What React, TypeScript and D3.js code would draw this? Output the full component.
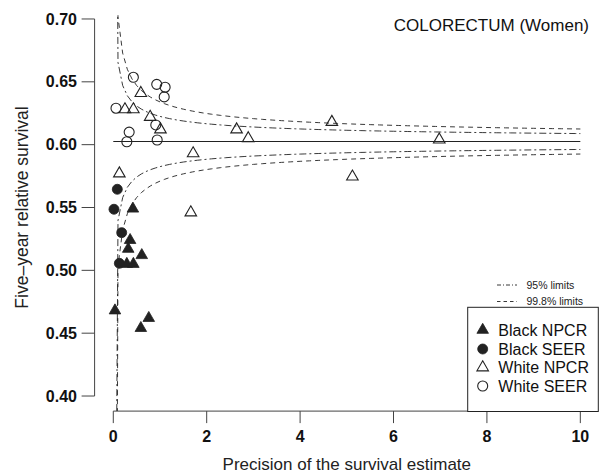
import React from "react";
import * as d3 from "d3";

// Precision (x) and five-year relative survival (y) per registry group
const blackNpcrX = [0.42, 0.36, 0.32, 0.61, 0.29, 0.43, 0.036, 0.76, 0.59];
const blackNpcrY = [0.549, 0.524, 0.517, 0.512, 0.505, 0.505, 0.468, 0.462, 0.454];

const blackSeerX = [0.086, 0.015, 0.18, 0.13];
const blackSeerY = [0.5645, 0.5486, 0.53, 0.5056];

const whiteNpcrX = [0.13, 0.25, 0.43, 0.59, 0.79, 1.01, 1.66, 1.71, 2.64, 2.89, 4.68, 5.12, 6.98];
const whiteNpcrY = [0.577, 0.628, 0.628, 0.641, 0.622, 0.612, 0.546, 0.593, 0.612, 0.605, 0.618, 0.5745, 0.604];

const whiteSeerX = [0.058, 0.43, 0.93, 1.11, 1.09, 0.91, 0.34, 0.29, 0.94];
const whiteSeerY = [0.629, 0.6536, 0.648, 0.6457, 0.638, 0.6157, 0.61, 0.6023, 0.6037];

// Funnel parameters: overall target and standard-error scale (SE = scale / sqrt(precision))
const target = 0.6025;
const seScale = 0.0102;
const z95 = 1.96;
const z998 = 3.09;

const xTicks = [0, 2, 4, 6, 8, 10];
const yTicks = [0.4, 0.45, 0.5, 0.55, 0.6, 0.65, 0.7];

const legendLabels = ["Black NPCR", "Black SEER", "White NPCR", "White SEER"];

const W = 601;
const H = 475;
const FONT = "'Liberation Sans', Arial, Helvetica, sans-serif";

export default function App() {
  // R-style 4% padding around the data ranges
  const x = d3.scaleLinear().domain([-0.4, 10.4]).range([94.6, 599]);
  const y = d3.scaleLinear().domain([0.388, 0.712]).range([411.1, 3.9]);

  // precision grid for the control limits
  const grid = d3.range(0, 101).map((i) => 0.001 + i * 0.1);
  const limit = (z: number, sign: number) =>
    d3
      .line<number>()
      .x((p) => x(p))
      .y((p) => y(target + sign * z * seScale / Math.sqrt(p)))(grid) || "";

  const triPath = d3.symbol().type(d3.symbolTriangle).size(58)() || "";
  const circR = 5;

  const dashDot = "7,3,2,3";
  const dashed = "5,4";
  const ink = "#222";

  const [px0, px1] = x.range();
  const py1 = y.range()[0];
  const curveTop = y(0.703);

  const legendRows = [330, 349, 367.5, 386];

  const marker = (kind: number, cx: number, cy: number, key: string) => {
    if (kind === 0)
      return <path key={key} d={triPath} transform={`translate(${cx},${cy})`} fill={ink} stroke={ink} strokeWidth={0.8} />;
    if (kind === 1)
      return <circle key={key} cx={cx} cy={cy} r={circR} fill={ink} stroke={ink} strokeWidth={0.8} />;
    if (kind === 2)
      return <path key={key} d={triPath} transform={`translate(${cx},${cy})`} fill="none" stroke={ink} strokeWidth={1.1} />;
    return <circle key={key} cx={cx} cy={cy} r={circR} fill="none" stroke={ink} strokeWidth={1.1} />;
  };

  const groups: [number[], number[], number][] = [
    [whiteSeerX, whiteSeerY, 3],
    [whiteNpcrX, whiteNpcrY, 2],
    [blackSeerX, blackSeerY, 1],
    [blackNpcrX, blackNpcrY, 0],
  ];

  return (
    <svg
      width={W}
      height={H}
      viewBox={`0 0 ${W} ${H}`}
      style={{ position: "absolute", left: 0, top: 0, background: "#fff", fontFamily: FONT }}
    >
      <defs>
        <clipPath id="plotClip">
          <rect x={px0} y={curveTop} width={px1 - px0} height={py1 - curveTop} />
        </clipPath>
      </defs>

      {/* target line and control limits */}
      <g clipPath="url(#plotClip)" fill="none" stroke={ink} strokeWidth={0.9}>
        <line x1={x(0)} x2={x(10)} y1={y(target)} y2={y(target)} strokeWidth={1.1} />
        <path d={limit(z95, 1)} strokeDasharray={dashDot} />
        <path d={limit(z95, -1)} strokeDasharray={dashDot} />
        <path d={limit(z998, 1)} strokeDasharray={dashed} />
        <path d={limit(z998, -1)} strokeDasharray={dashed} />
      </g>

      {/* points */}
      <g>
        {groups.map(([xs, ys, kind], gi) =>
          xs.map((v, i) => marker(kind, x(v), y(ys[i]), `${gi}-${i}`))
        )}
      </g>

      {/* y axis */}
      <g stroke="#444" strokeWidth={1}>
        <line x1={px0} x2={px0} y1={y(0.4)} y2={y(0.7)} />
        {yTicks.map((t) => (
          <line key={t} x1={px0 - 13} x2={px0} y1={y(t)} y2={y(t)} />
        ))}
      </g>
      {yTicks.map((t) => (
        <text key={t} x={77} y={y(t) + 5.6} textAnchor="end" fontSize={16} fontWeight="bold" fill="#111">
          {d3.format(".2f")(t)}
        </text>
      ))}

      {/* x axis */}
      <g stroke="#444" strokeWidth={1}>
        <line x1={x(0)} x2={x(10)} y1={py1} y2={py1} />
        {xTicks.map((t) => (
          <line key={t} x1={x(t)} x2={x(t)} y1={py1} y2={py1 + 12} />
        ))}
      </g>
      {xTicks.map((t) => (
        <text key={t} x={x(t)} y={441.5} textAnchor="middle" fontSize={16} fontWeight="bold" fill="#111">
          {t}
        </text>
      ))}

      {/* axis titles */}
      <text x={x(5)} y={470} textAnchor="middle" fontSize={17} fill="#222">
        Precision of the survival estimate
      </text>
      <text
        transform={`translate(28,${(y(0.4) + y(0.7)) / 2}) rotate(-90)`}
        textAnchor="middle"
        fontSize={17.5}
        fill="#222"
      >
        Five–year relative survival
      </text>

      {/* panel title */}
      <text x={589} y={31} textAnchor="end" fontSize={17} fill="#111">
        COLORECTUM (Women)
      </text>

      {/* limit-line key */}
      <g stroke={ink} strokeWidth={0.9}>
        <line x1={497} x2={517} y1={285} y2={285} strokeDasharray="4,2,1,2" />
        <line x1={497} x2={517} y1={301.5} y2={301.5} strokeDasharray="3.5,3" />
      </g>
      <text x={526.5} y={288.5} fontSize={10.5} fill="#222">95% limits</text>
      <text x={526.5} y={305} fontSize={10.5} fill="#222">99.8% limits</text>

      {/* group legend */}
      <rect x={467.7} y={307.3} width={130.6} height={104.2} fill="#fff" stroke={ink} strokeWidth={1} />
      {legendLabels.map((lab, i) => (
        <g key={lab}>
          {marker(i, 482.7, legendRows[i], `lg-${i}`)}
          <text x={498.3} y={legendRows[i] + 5.8} fontSize={16} fill="#111">
            {lab}
          </text>
        </g>
      ))}
    </svg>
  );
}
